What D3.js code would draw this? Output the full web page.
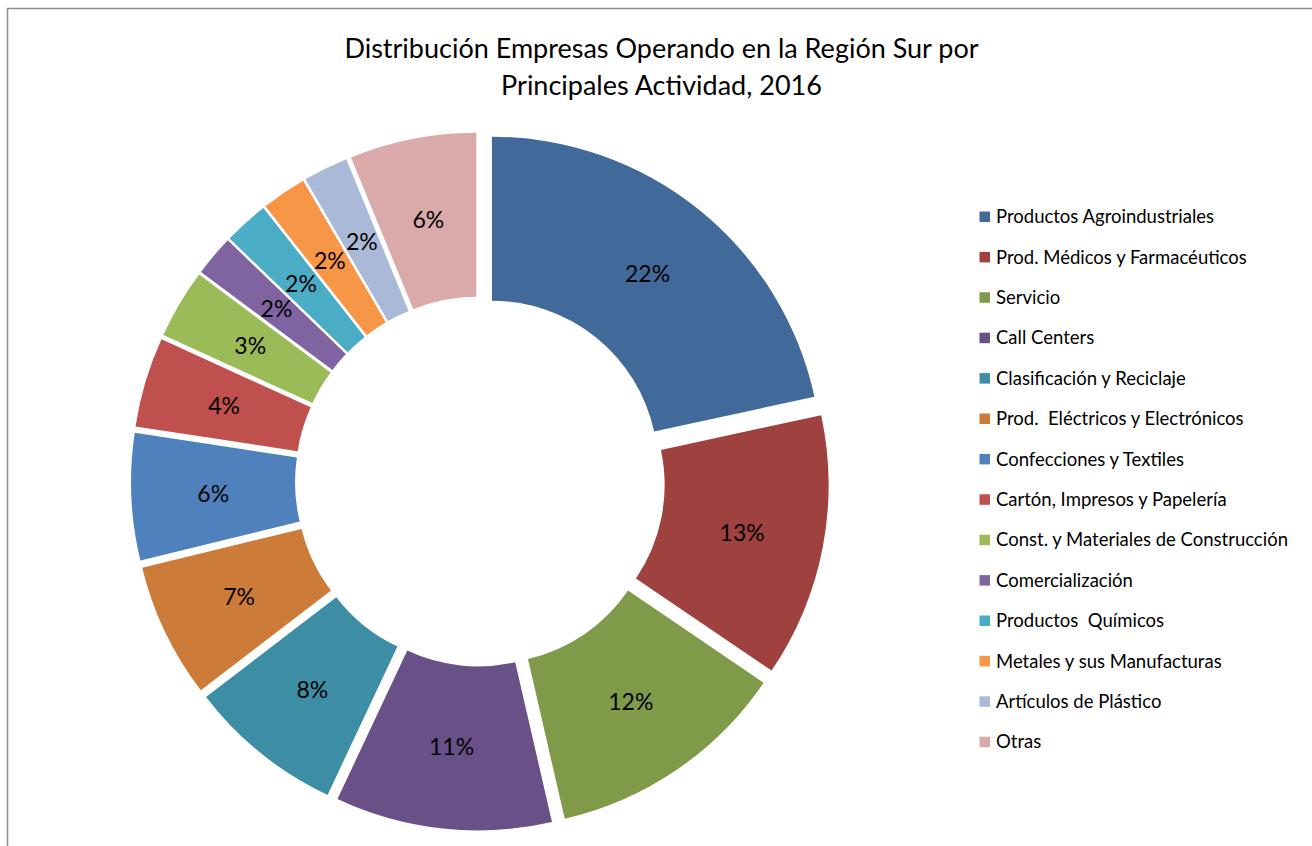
<!DOCTYPE html>
<html>
<head>
<meta charset="utf-8">
<script src="https://cdn.jsdelivr.net/npm/d3@7"></script>
<style>
  body { margin: 0; background: #fff; }
  text { font-family: Lato, "Open Sans", sans-serif; white-space: pre; }
</style>
</head>
<body>
<div id="chart"></div>
<script>
// Data
const categories = [
    'Productos Agroindustriales',
    'Prod. Médicos y Farmacéuticos',
    'Servicio',
    'Call Centers',
    'Clasificación y Reciclaje',
    'Prod.  Eléctricos y Electrónicos',
    'Confecciones y Textiles',
    'Cartón, Impresos y Papelería',
    'Const. y Materiales de Construcción',
    'Comercialización',
    'Productos  Químicos',
    'Metales y sus Manufacturas',
    'Artículos de Plástico',
    'Otras'
];
const shares = [21.6, 12.9, 11.9, 10.6, 7.6, 6.6, 6.2, 4.4, 3.4, 2.0, 2.2, 2.2, 2.2, 6.2];
const colors = [
    '#416A9B', '#9E413F', '#7F9A48', '#695087', '#3D8DA4', '#CC7B38',
    '#4F81BD', '#C0504D', '#9BBB59', '#8064A2', '#4BACC6', '#F79646',
    '#AAB9D7', '#D9AAA9'
];
const titleLines = ['Distribución Empresas Operando en la Región Sur por', 'Principales Actividad, 2016'];

const width = 1312, height = 846;
const cx = 480, cy = 481.5;
const outerR = 330, innerR = 166, explode = 19;

const svg = d3.select('#chart')
    .append('svg')
    .attr('width', width)
    .attr('height', height);

// chart border (cropped on the right and bottom)
svg.append('rect')
    .attr('x', 7.5)
    .attr('y', 8.5)
    .attr('width', 1400)
    .attr('height', 1000)
    .attr('fill', '#fff')
    .attr('stroke', '#8c8c8c')
    .attr('stroke-width', 1.5);

svg.selectAll('.title')
    .data(titleLines)
    .enter()
    .append('text')
    .attr('class', 'title')
    .attr('x', 661.5)
    .attr('y', (d, i) => 58 + i * 37)
    .attr('text-anchor', 'middle')
    .attr('font-size', 27)
    .attr('fill', '#000')
    .text(d => d);

const total = d3.sum(shares);
const pie = d3.pie().sort(null).value(d => d);
const arc = d3.arc().innerRadius(innerR).outerRadius(outerR);
const fmt = d3.format('.0%');

const slices = svg.append('g')
    .attr('transform', `translate(${cx},${cy})`)
    .selectAll('g')
    .data(pie(shares))
    .enter()
    .append('g')
    .attr('transform', d => {
        const mid = (d.startAngle + d.endAngle) / 2;
        return `translate(${explode * Math.sin(mid)},${-explode * Math.cos(mid)})`;
    });

slices.append('path')
    .attr('d', arc)
    .attr('fill', (d, i) => colors[i]);

slices.append('text')
    .attr('transform', d => `translate(${arc.centroid(d)})`)
    .attr('text-anchor', 'middle')
    .attr('dy', '0.36em')
    .attr('font-size', 23)
    .attr('fill', '#000')
    .text(d => fmt(d.value / total));

// legend
const legend = svg.append('g')
    .selectAll('g')
    .data(categories)
    .enter()
    .append('g')
    .attr('transform', (d, i) => `translate(979.5,${216.8 + i * 40.4})`);

legend.append('rect')
    .attr('x', 0)
    .attr('y', -5.3)
    .attr('width', 10.5)
    .attr('height', 10.5)
    .attr('fill', (d, i) => colors[i]);

legend.append('text')
    .attr('x', 16.5)
    .attr('dy', '0.35em')
    .attr('font-size', 18.5)
    .attr('fill', '#000')
    .text(d => d);
</script>
</body>
</html>
